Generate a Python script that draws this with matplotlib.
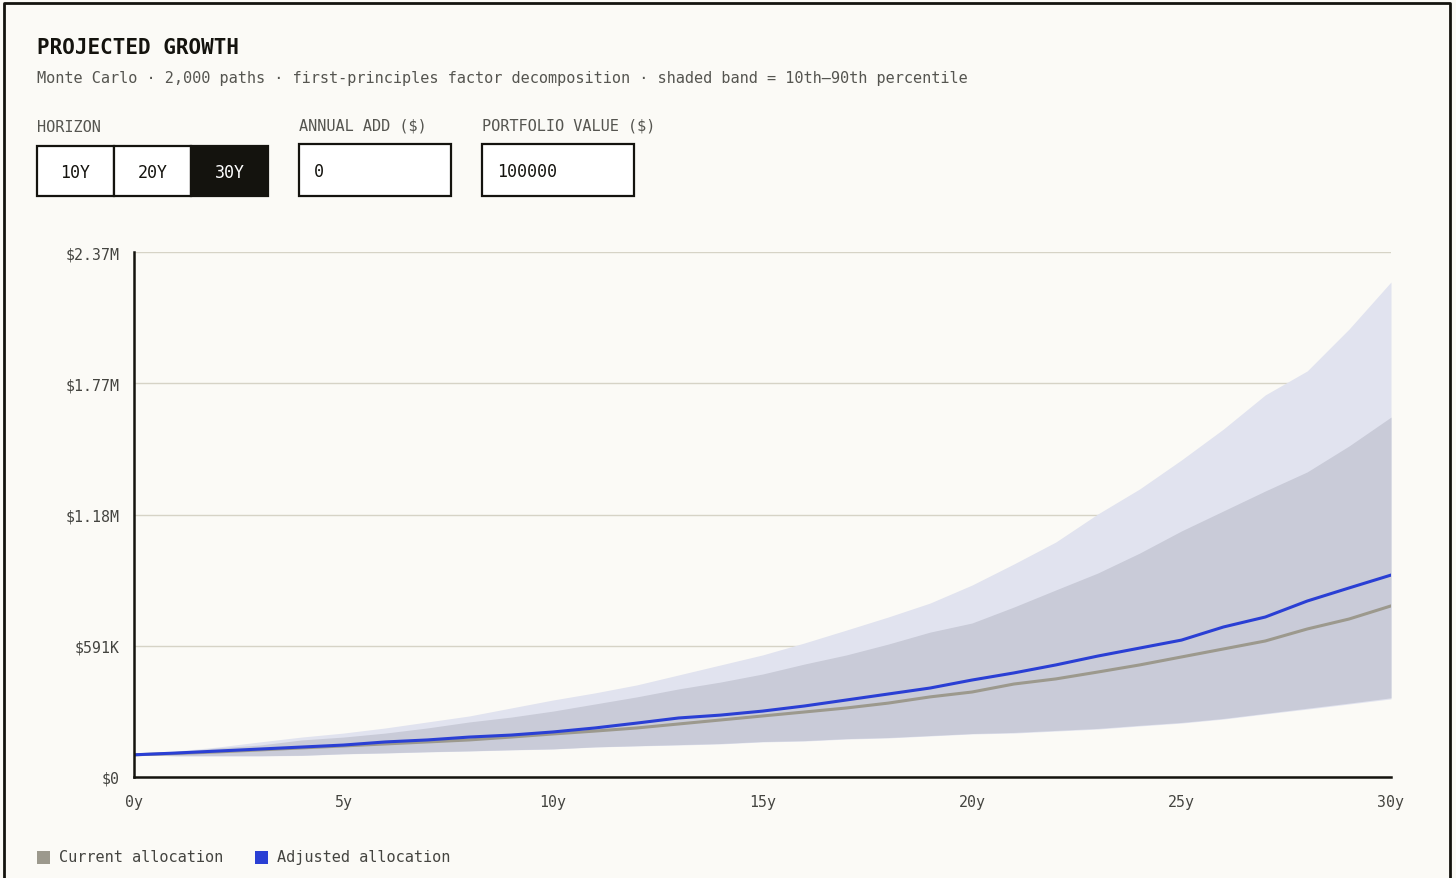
import numpy as np
import matplotlib
matplotlib.use("Agg")
import matplotlib.pyplot as plt
from matplotlib.patches import Rectangle
from matplotlib.lines import Line2D

plt.rcParams['font.family'] = ['DejaVu Sans Mono']

# data ($ thousands)
years = list(range(0, 31))
current_median = [100, 106, 113, 122, 131, 140, 149, 158, 167, 180, 194, 207, 221, 239, 257, 275,
                  293, 311, 333, 361, 383, 419, 442, 473, 505, 541, 577, 613, 667, 712, 771]
adjusted_median = [100, 108, 117, 126, 135, 144, 158, 167, 180, 189, 203, 221, 243, 266, 279, 297,
                   320, 347, 374, 401, 437, 469, 505, 545, 581, 617, 676, 721, 793, 852, 910]
current_p90 = [100, 113, 131, 144, 167, 180, 198, 221, 248, 270, 297, 329, 361, 397, 428, 464,
               509, 550, 599, 653, 694, 766, 843, 919, 1009, 1109, 1199, 1289, 1375, 1492, 1622]
current_p10 = [100, 96, 96, 96, 98, 105, 109, 114, 118, 123, 127, 136, 141, 146, 151, 160,
               164, 173, 178, 187, 196, 201, 210, 219, 233, 246, 264, 287, 310, 333, 357]
adjusted_p90 = [100, 117, 135, 158, 180, 198, 221, 248, 275, 311, 347, 379, 415, 460, 505, 550,
                604, 662, 721, 784, 865, 960, 1059, 1185, 1298, 1429, 1568, 1722, 1830, 2019, 2231]
adjusted_p10 = [100, 95, 95, 95, 97, 104, 108, 113, 117, 122, 126, 135, 140, 144, 149, 158,
                162, 171, 176, 185, 194, 198, 207, 216, 230, 243, 261, 284, 306, 329, 352]

y_top = 2366000
y_ticks = [0, 591500, 1183000, 1774500, 2366000]
y_tick_labels = ["$0", "$591K", "$1.18M", "$1.77M", "$2.37M"]
x_ticks = [0, 5, 10, 15, 20, 25, 30]
x_tick_labels = ["0y", "5y", "10y", "15y", "20y", "25y", "30y"]

horizon_options = ["10Y", "20Y", "30Y"]
annual_add = "0"
portfolio_value = "100000"

BG = "#fbfaf6"
INK = "#14130e"
GREY_LINE = "#9c998d"
BLUE_LINE = "#2a3fd4"

W, H = 1456, 879
fig = plt.figure(figsize=(W / 100, H / 100), dpi=100, facecolor=BG)


def fx(x):
    return x / W


def fy(y):
    return 1 - y / H


def box(x0, y0, x1, y1, face="white", lw=1.6):
    fig.add_artist(Rectangle((fx(x0), fy(y1)), fx(x1) - fx(x0), fy(y0) - fy(y1),
                             transform=fig.transFigure, facecolor=face,
                             edgecolor=INK, linewidth=lw))


# card border (open at the bottom)
fig.add_artist(Line2D([fx(4), fx(4), fx(1450), fx(1450)], [0, fy(4), fy(4), 0],
                      transform=fig.transFigure, color=INK, linewidth=2))

# header
fig.text(fx(37), fy(48), "PROJECTED GROWTH", fontsize=15, fontweight="bold",
         color=INK, va="center", ha="left")
fig.text(fx(37), fy(78),
         "Monte Carlo \u00b7 2,000 paths \u00b7 first-principles factor decomposition \u00b7 "
         "shaded band = 10th\u201390th percentile",
         fontsize=11, color="#555550", va="center", ha="left")

# controls
fig.text(fx(37), fy(128), "HORIZON", fontsize=11, color="#555550", va="center")
fig.text(fx(299), fy(126), "ANNUAL ADD ($)", fontsize=11, color="#555550", va="center")
fig.text(fx(482), fy(126), "PORTFOLIO VALUE ($)", fontsize=11, color="#555550", va="center")

cell_w = 77
for i, opt in enumerate(horizon_options):
    x0 = 37 + i * cell_w
    active = opt == "30Y"
    box(x0, 147, x0 + cell_w, 197, face=INK if active else "white")
    fig.text(fx(x0 + cell_w / 2), fy(173), opt, fontsize=12,
             color="white" if active else INK, ha="center", va="center")

box(299, 145, 451, 197)
fig.text(fx(314), fy(172), annual_add, fontsize=12, color=INK, va="center")
box(482, 145, 634, 197)
fig.text(fx(497), fy(172), portfolio_value, fontsize=12, color=INK, va="center")

# chart
ax = fig.add_axes([fx(134), fy(778), fx(1391) - fx(134), fy(253) - fy(778)])
ax.set_facecolor(BG)

k = 1000.0
ax.fill_between(years, np.array(adjusted_p10) * k, np.array(adjusted_p90) * k,
                color="#e1e3ef", linewidth=0, zorder=1)
ax.fill_between(years, np.array(current_p10) * k, np.array(current_p90) * k,
                color="#c9cbd8", linewidth=0, zorder=2)
ax.plot(years, np.array(current_median) * k, color=GREY_LINE, linewidth=2.2, zorder=3)
ax.plot(years, np.array(adjusted_median) * k, color=BLUE_LINE, linewidth=2.2, zorder=4)

ax.set_xlim(0, 30)
ax.set_ylim(0, y_top)
ax.set_yticks(y_ticks)
ax.set_yticklabels(y_tick_labels)
ax.set_xticks(x_ticks)
ax.set_xticklabels(x_tick_labels)
ax.tick_params(axis="both", length=0, labelsize=10.7, labelcolor="#444440")
ax.tick_params(axis="x", pad=12)
ax.tick_params(axis="y", pad=10)
ax.grid(axis="y", color="#d6d3c6", linewidth=1, zorder=0)
ax.set_axisbelow(True)
for side in ["top", "right"]:
    ax.spines[side].set_visible(False)
for side in ["left", "bottom"]:
    ax.spines[side].set_color(INK)
    ax.spines[side].set_linewidth(1.8)
    ax.spines[side].set_zorder(5)

# legend
fig.add_artist(Rectangle((fx(37), fy(865)), fx(13), 13 / H, transform=fig.transFigure,
                         facecolor=GREY_LINE, edgecolor="none"))
fig.text(fx(59), fy(858), "Current allocation", fontsize=11, color="#444440", va="center")
fig.add_artist(Rectangle((fx(255), fy(865)), fx(13), 13 / H, transform=fig.transFigure,
                         facecolor=BLUE_LINE, edgecolor="none"))
fig.text(fx(277), fy(858), "Adjusted allocation", fontsize=11, color="#444440", va="center")

fig.savefig("out.png", dpi=100, facecolor=BG)
